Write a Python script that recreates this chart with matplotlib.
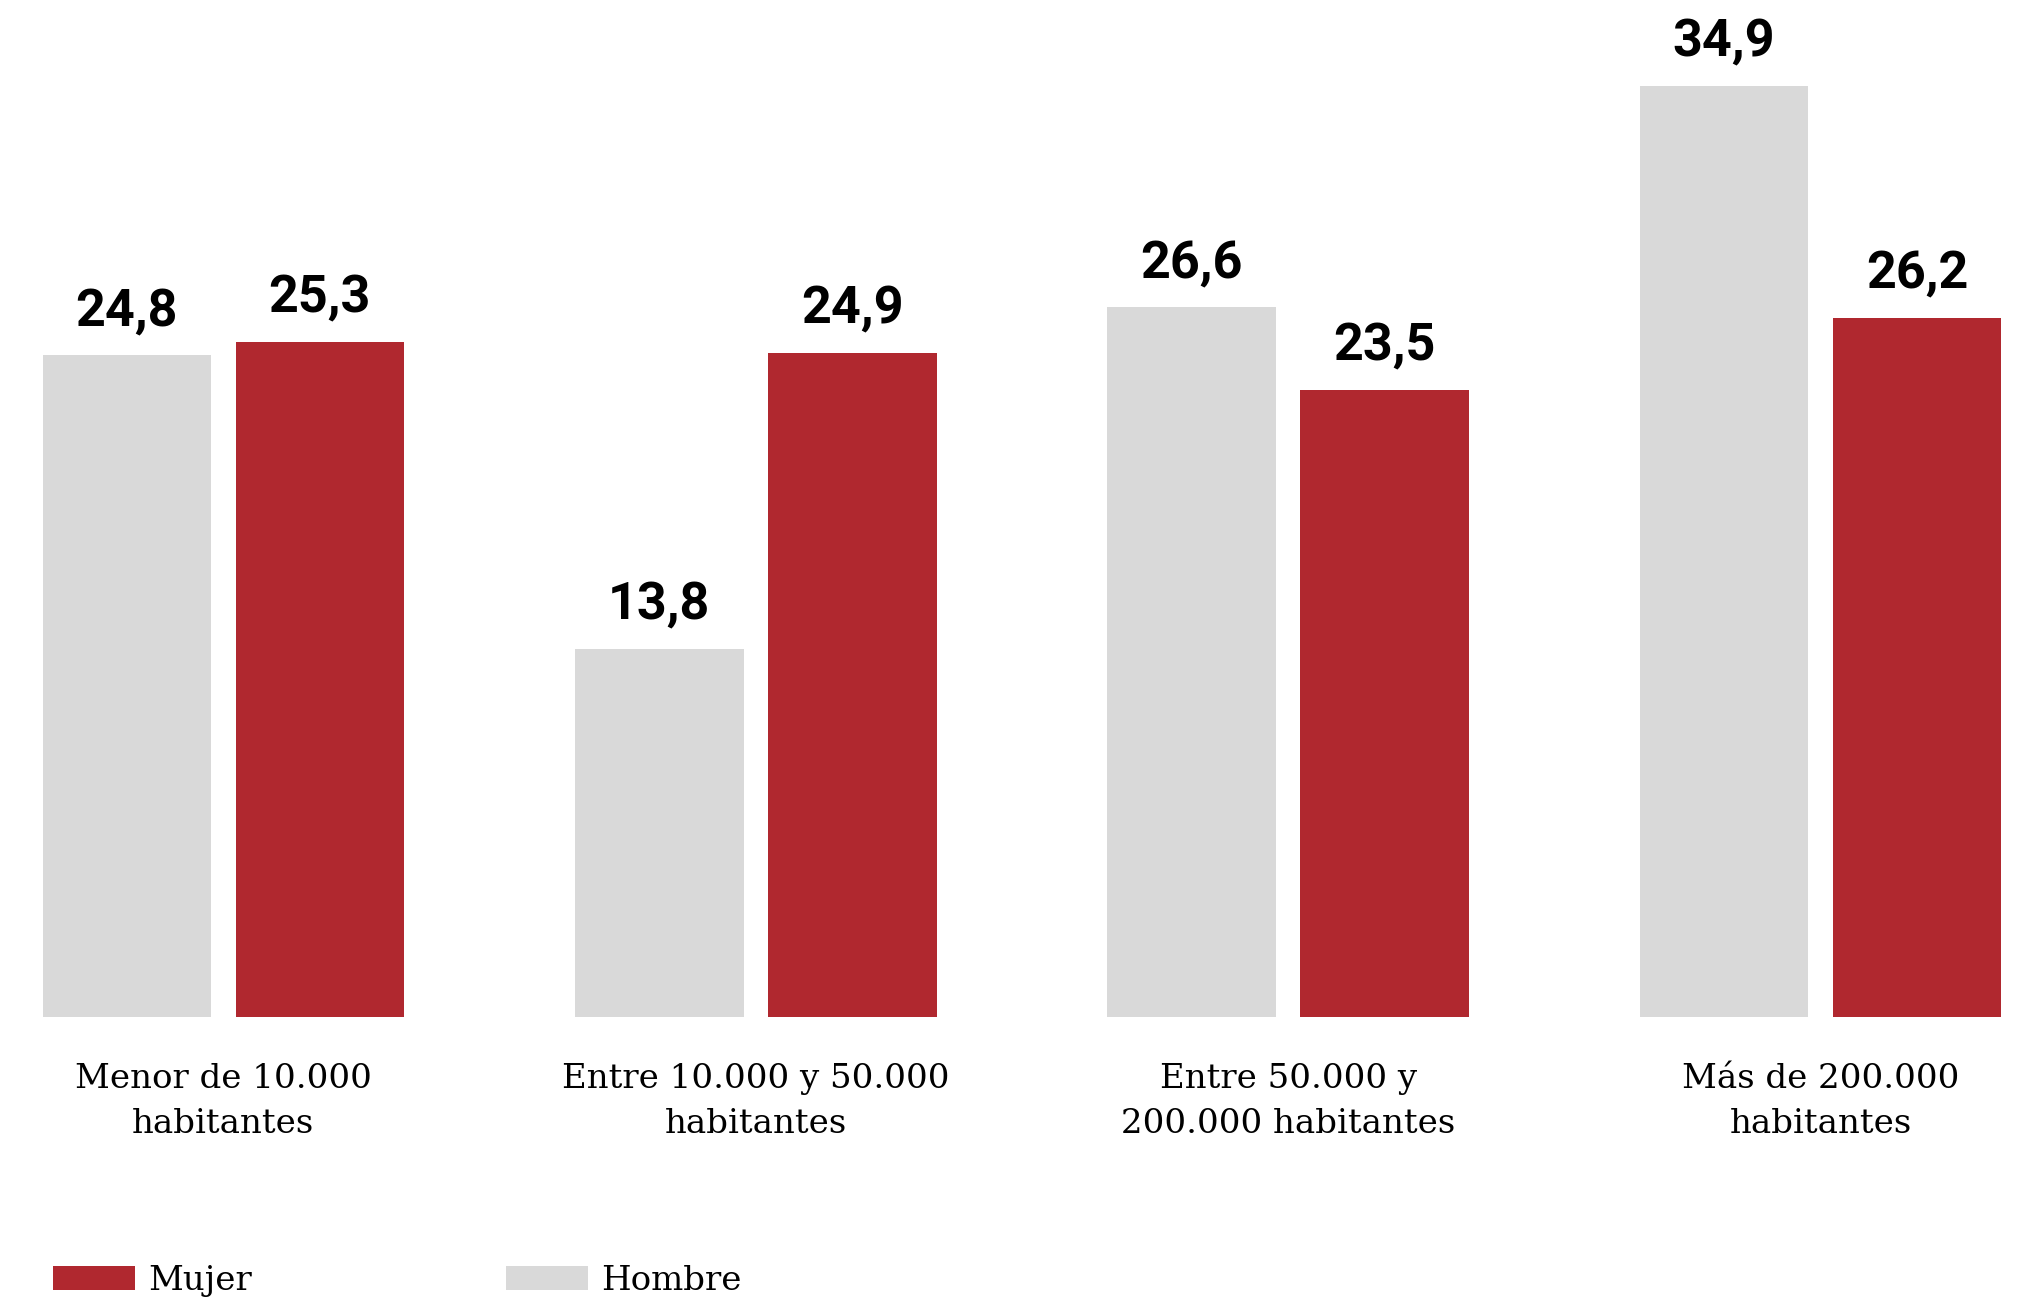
import numpy as np
import matplotlib.pyplot as plt
from matplotlib import font_manager

categories = ['Menor de 10.000\nhabitantes', 'Entre 10.000 y 50.000\nhabitantes',
              'Entre 50.000 y\n200.000 habitantes', 'Más de 200.000\nhabitantes']
hombre = [24.8, 13.8, 26.6, 34.9]
mujer = [25.3, 24.9, 23.5, 26.2]

red = '#B0282F'
gray = '#D9D9D9'

names = {f.name for f in font_manager.fontManager.ttflist}
serif = 'DejaVu Serif Condensed' if 'DejaVu Serif Condensed' in names else 'DejaVu Serif'

fig = plt.figure(figsize=(20.18, 12.99), dpi=100)
ax = fig.add_axes([0, 0.2171, 1, 0.7829])

x = np.arange(len(categories))
w = 0.3167
off = 0.1813
b_h = ax.bar(x - off, hombre, w, color=gray, label='Hombre')
b_m = ax.bar(x + off, mujer, w, color=red, label='Mujer')

for bars, vals in ((b_h, hombre), (b_m, mujer)):
    for b, v in zip(bars, vals):
        ax.annotate(f'{v:.1f}'.replace('.', ','), (b.get_x() + b.get_width() / 2, v),
                    xytext=(0, 21), textcoords='offset points', ha='center', va='baseline',
                    fontsize=37.5, fontweight='bold', family='Roboto')

ax.set_xlim(-0.4196, 3.3708)
ax.set_ylim(0, 38.12)
ax.set_xticks(x)
ax.set_xticklabels(categories, family=serif, fontsize=24.5, linespacing=1.52)
ax.tick_params(axis='x', length=0, pad=33)
ax.set_yticks([])
for s in ax.spines.values():
    s.set_visible(False)

# two single-entry legends, placed where the reference puts them
for h, lab, x0 in ((b_m, 'Mujer', 53), (b_h, 'Hombre', 506)):
    fig.legend(handles=[h], labels=[lab], loc='lower left',
               bbox_to_anchor=(x0 / 2018, 2 / 1299), frameon=False,
               prop={'family': serif, 'size': 24.5}, handlelength=2.4, handleheight=0.68,
               handletextpad=0.4, borderpad=0, borderaxespad=0)

fig.savefig('out.png', dpi=100)
